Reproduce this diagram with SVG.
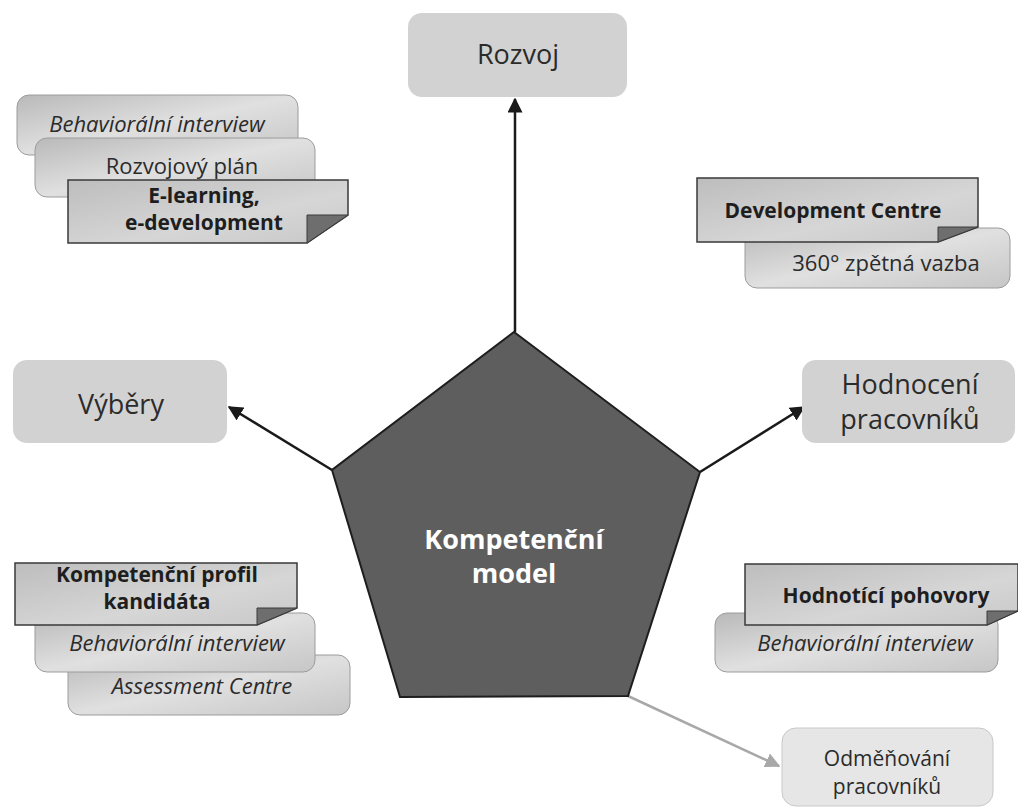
<svg xmlns="http://www.w3.org/2000/svg" width="1018" height="809" viewBox="0 0 1018 809">
<style>
  text { font-family: "Open Sans", "Noto Sans", "DejaVu Sans", sans-serif; fill: #2b2b2b; text-anchor: middle; }
  .main { font-size: 27px; }
  .small { font-size: 22px; }
  .odm { font-size: 21px; }
  .it { font-size: 22px; font-style: italic; }
  .bold { font-size: 21px; font-weight: bold; fill: #1e1e1e; }
  .ctr { font-size: 27px; font-weight: bold; fill: #ffffff; }
  .mainbox { fill: #d2d2d2; }
  .lightbox { fill: #e6e6e6; stroke: #c8c8c8; stroke-width: 1; }
  .rbox { fill: url(#gr); stroke: #9c9c9c; stroke-width: 1; }
  .note { fill: url(#gn); stroke: #3a3a3a; stroke-width: 1.5; }
  .fold { fill: #6e6e6e; stroke: #3a3a3a; stroke-width: 1; }
  .conn { stroke: #1a1a1a; stroke-width: 2.5; fill: none; }
  .conn2 { stroke: #a8a8a8; stroke-width: 2.5; fill: none; }
</style>
<defs>
  <linearGradient id="gr" x1="0" y1="0" x2="1" y2="1">
    <stop offset="0" stop-color="#b9b9b9"/>
    <stop offset="0.5" stop-color="#e0e0e0"/>
    <stop offset="1" stop-color="#c6c6c6"/>
  </linearGradient>
  <linearGradient id="gn" x1="0" y1="0" x2="1" y2="1">
    <stop offset="0" stop-color="#bdbdbd"/>
    <stop offset="0.6" stop-color="#d6d6d6"/>
    <stop offset="1" stop-color="#c8c8c8"/>
  </linearGradient>
  <marker id="ah" viewBox="0 0 10 10" refX="9" refY="5" markerWidth="6" markerHeight="6" markerUnits="strokeWidth" orient="auto">
    <path d="M0,0 L10,5 L0,10 Z" fill="#1a1a1a"/>
  </marker>
  <marker id="ahg" viewBox="0 0 10 10" refX="9" refY="5" markerWidth="6" markerHeight="6" markerUnits="strokeWidth" orient="auto">
    <path d="M0,0 L10,5 L0,10 Z" fill="#a8a8a8"/>
  </marker>
</defs>

<g id="connectors">
  <line class="conn" x1="515" y1="332" x2="515" y2="99" marker-end="url(#ah)"/>
  <line class="conn" x1="332" y1="470" x2="229" y2="407" marker-end="url(#ah)"/>
  <line class="conn" x1="700" y1="472" x2="804" y2="407" marker-end="url(#ah)"/>
  <line class="conn2" x1="628" y1="696" x2="779" y2="766" marker-end="url(#ahg)"/>
</g>

<g id="center">
  <polygon points="514,332 700,472 628,696 400,697 332,470" fill="#5e5e5e" stroke="#1e1e1e" stroke-width="2"/>
  <text class="ctr" x="514" y="549">Kompetenční</text>
  <text class="ctr" x="514" y="583">model</text>
</g>

<g id="rozvoj">
  <rect class="mainbox" x="408" y="13" width="219" height="84" rx="14"/>
  <text class="main" x="518" y="64">Rozvoj</text>
</g>

<g id="vybery">
  <rect class="mainbox" x="13" y="360" width="214" height="83" rx="14"/>
  <text class="main" x="121" y="414">Výběry</text>
</g>

<g id="hodnoceni">
  <rect class="mainbox" x="802" y="360" width="213" height="83" rx="14"/>
  <text class="main" x="910" y="394">Hodnocení</text>
  <text class="main" x="910" y="429">pracovníků</text>
</g>

<g id="odmenovani">
  <rect class="lightbox" x="782" y="728" width="211" height="78" rx="14"/>
  <text class="odm" x="887" y="766">Odměňování</text>
  <text class="odm" x="887" y="794">pracovníků</text>
</g>

<g id="rozvoj-tools">
  <g id="tl-behav">
    <rect class="rbox" x="17" y="95" width="281" height="60" rx="12"/>
    <text class="it" x="157" y="132">Behaviorální interview</text>
  </g>
  <g id="tl-plan">
    <rect class="rbox" x="35" y="138" width="280" height="59" rx="12"/>
    <text class="small" x="182" y="174">Rozvojový plán</text>
  </g>
  <g id="tl-elearn">
    <path class="note" d="M68,180 H348 V215 L307,243 H68 Z"/>
    <path class="fold" d="M307,215 H348 L307,243 Z"/>
    <text class="bold" x="204" y="203">E-learning,</text>
    <text class="bold" x="204" y="230">e-development</text>
  </g>
</g>

<g id="hodnoceni-tools-top">
  <g id="tr-360">
    <rect class="rbox" x="745" y="228" width="265" height="60" rx="12"/>
    <text class="small" x="886" y="271">360° zpětná vazba</text>
  </g>
  <g id="tr-dc">
    <path class="note" d="M697,178 H978 V227 L938,242 H697 Z"/>
    <path class="fold" d="M938,227 H978 L938,242 Z"/>
    <text class="bold" x="833" y="218">Development Centre</text>
  </g>
</g>

<g id="vybery-tools">
  <g id="bl-ac">
    <rect class="rbox" x="68" y="655" width="282" height="60" rx="12"/>
    <text class="it" x="202" y="694">Assessment Centre</text>
  </g>
  <g id="bl-behav">
    <rect class="rbox" x="35" y="613" width="280" height="59" rx="12"/>
    <text class="it" x="177" y="651">Behaviorální interview</text>
  </g>
  <g id="bl-profil">
    <path class="note" d="M15,563 H297 V608 L257,625 H15 Z"/>
    <path class="fold" d="M257,608 H297 L257,625 Z"/>
    <text class="bold" x="157" y="582">Kompetenční profil</text>
    <text class="bold" x="157" y="609">kandidáta</text>
  </g>
</g>

<g id="hodnoceni-tools-bottom">
  <g id="br-behav">
    <rect class="rbox" x="715" y="613" width="283" height="59" rx="12"/>
    <text class="it" x="865" y="651">Behaviorální interview</text>
  </g>
  <g id="br-pohovory">
    <path class="note" d="M745,564 H1018 V611 L987,625 H745 Z"/>
    <path class="fold" d="M987,611 H1018 L987,625 Z"/>
    <text class="bold" x="886" y="603">Hodnotící pohovory</text>
  </g>
</g>
</svg>
